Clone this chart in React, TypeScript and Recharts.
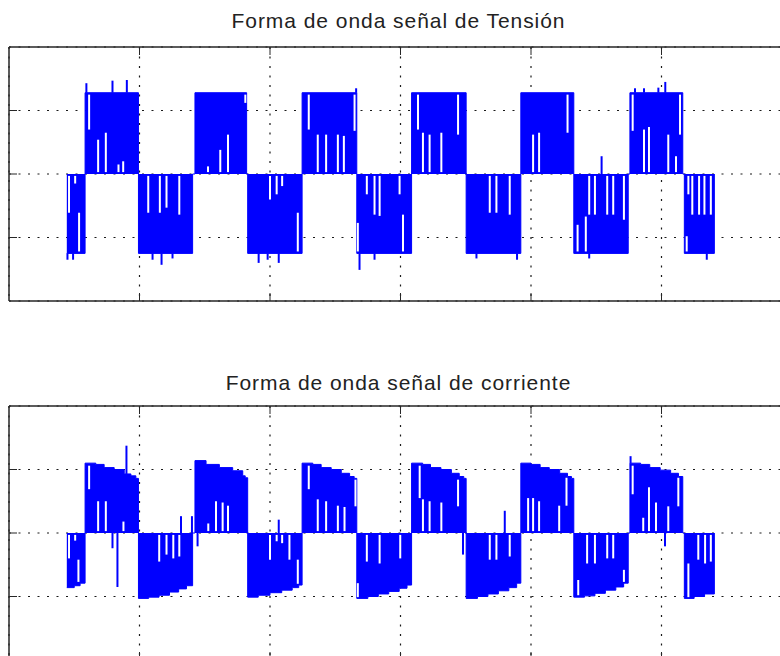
import { ComposedChart, Area, XAxis, YAxis, CartesianGrid, ReferenceLine } from "recharts";

// time in ms, grid every 10 ms
const timeTicks = [10, 20, 30, 40, 50];
const voltTicks = [-100, 0, 100];
const currTicks = [-10, 0, 10];

// voltage envelope (stepAfter): start time of each level
const voltTime = [4.43, 5.83, 9.92, 14.07, 14.25, 18.21, 18.29, 22.46, 26.65, 30.85, 35.03, 39.22, 43.28, 47.45, 47.58, 51.63, 51.75, 54.05];
const voltLevel = [-125, 128, -125, 0, 128, 0, -125, 128, -125, 128, -125, 128, -125, 0, 128, 0, -125, 0];

// current envelope (stepAfter)
const currTime = [
  4.43, 5.0, 5.45, 5.83, 6.65, 7.29, 8.06, 8.83, 9.34, 9.72, 9.92, 10.7, 11.5, 12.3, 13.0, 13.6, 14.07,
  14.25, 15.1, 16.12, 17.14, 17.91, 18.1, 18.29, 19.1, 20.0, 20.9, 21.7, 22.2, 22.46, 23.28, 23.92, 24.69,
  25.46, 26.1, 26.45, 26.65, 27.5, 28.3, 29.1, 29.9, 30.5, 30.85, 31.7, 32.3, 33.1, 33.9, 34.5, 34.85,
  35.03, 35.9, 36.7, 37.5, 38.3, 38.9, 39.22, 40.0, 40.7, 41.4, 42.2, 42.8, 43.1, 43.28, 44.1, 44.9, 45.7,
  46.5, 47.1, 47.45, 47.58, 48.4, 49.1, 49.9, 50.7, 51.3, 51.63, 51.75, 52.5, 53.3, 54.05,
];
const currLevel = [
  -8.6, -8.3, -7.9, 11.0, 10.8, 10.3, 10.0, 9.3, 9.0, 8.6, -10.3, -10.1, -9.8, -9.3, -8.8, -8.3, 0,
  11.4, 10.8, 10.3, 9.8, 9.0, 8.7, -10.1, -9.8, -9.4, -9.0, -8.6, -8.2, 11.0, 10.8, 10.3, 10.0,
  9.4, 8.9, 8.6, -10.3, -10.0, -9.6, -9.2, -8.7, -8.2, 11.0, 10.8, 10.3, 10.0, 9.4, 8.9, 8.6,
  -10.3, -10.0, -9.6, -9.1, -8.6, -7.9, 11.0, 10.8, 10.3, 10.0, 9.4, 8.9, 8.6, -10.1, -9.9, -9.5, -9.0,
  -8.5, -7.9, 0, 11.0, 10.8, 10.3, 9.9, 9.4, 8.9, 0, -10.3, -10.0, -9.6, 0,
];

// [time, from, to] short excursions beyond the envelope
const voltSpikes = [
  [4.48, -125, -135], [4.91, -125, -135], [5.93, 128, 143], [7.93, 128, 147], [9.03, 128, 148],
  [11.0, -125, -135], [11.69, -125, -143], [12.53, -125, -133], [19.13, -125, -140], [19.82, -125, -135],
  [20.67, -125, -140], [26.6, 128, 135], [26.86, -125, -151], [28.01, -125, -135], [35.82, -125, -133],
  [38.93, -125, -135], [44.46, -125, -133], [45.41, 0, 28], [47.97, 128, 135], [48.66, 128, 135],
  [49.76, 128, 136], [50.29, 128, 145], [53.47, -125, -135],
];

// [time, from, to] gaps inside the switching blocks
const voltNotches = [
  [4.6, -3, -61], [5.07, -3, -15], [5.37, -61, -122], [6.14, 125, 70], [6.83, 54, 3], [7.42, 65, 3],
  [8.39, 15, 3], [8.75, 20, 3], [10.67, -3, -61], [11.56, -3, -61], [12.07, -3, -53], [13.05, -3, -64],
  [15.25, 12, 3], [16.19, 38, 3], [16.78, 62, 3], [18.11, 125, 112], [20.0, -3, -40], [20.51, -3, -32],
  [20.93, -3, -19], [22.13, -61, -122], [22.97, 125, 70], [23.66, 62, 3], [24.3, 62, 3], [25.2, 62, 3],
  [25.66, 60, 3], [26.48, 125, 68], [26.73, -77, -122], [27.42, -3, -32], [28.01, -3, -64], [28.4, -3, -66],
  [29.93, -3, -32], [30.19, -64, -122], [31.34, 125, 70], [31.72, 65, 3], [32.23, 62, 3], [33.13, 65, 3],
  [34.41, 125, 62], [36.84, -3, -61], [37.35, -3, -61], [38.37, -3, -64], [40.16, 62, 3], [40.62, 65, 3],
  [42.8, 125, 65], [43.57, -80, -122], [44.2, -67, -122], [44.46, -3, -64], [44.9, -3, -64], [45.84, -3, -64],
  [46.3, -3, -64], [47.12, -3, -72], [47.79, 125, 68], [48.66, 70, 3], [49.04, 74, 3], [50.52, 62, 3],
  [51.11, 28, 3], [51.42, 125, 62], [51.93, -98, -122], [52.06, -3, -32], [52.36, -3, -64], [52.88, -3, -64],
  [53.29, -3, -64], [53.78, -3, -64],
];

const currSpikes = [
  [7.93, 0, -2.4], [8.31, 0, -8.5], [9.0, 9.3, 13.75], [13.18, 0, 2.65], [14.02, 0, 2.65], [14.45, 0, -2.1],
  [20.67, 0, 2.1], [34.79, 0, -3.4], [37.99, 0, 3.5], [47.63, 11.0, 12.1], [50.27, 0, -2.1],
];

const currNotches = [
  [4.6, -0.3, -4.0], [5.07, -0.3, -1.2], [5.32, -4.2, -7.7], [6.14, 10.6, 6.9], [6.83, 5.0, 0.3],
  [7.42, 5.0, 0.3], [8.77, 1.8, 0.3], [11.51, -0.3, -4.5], [12.07, -0.3, -3.4], [12.59, -0.3, -4.0],
  [13.05, -0.3, -3.7], [15.27, 1.5, 0.3], [15.86, 5.0, 0.3], [16.37, 4.8, 0.3], [16.78, 4.3, 0.3],
  [20.0, -0.3, -4.2], [20.51, -0.3, -1.3], [20.93, -0.3, -1.6], [21.49, -0.3, -4.2], [22.13, -4.2, -8.0],
  [22.97, 10.6, 6.9], [23.66, 5.3, 0.3], [24.3, 5.0, 0.3], [25.2, 4.3, 0.3], [25.71, 4.1, 0.3],
  [26.55, 8.4, 4.2], [26.73, -7.9, -10.1], [27.42, -0.3, -4.5], [28.4, -0.3, -4.8], [29.98, -0.3, -4.0],
  [31.47, 10.6, 5.5], [31.72, 5.3, 0.3], [32.23, 5.0, 0.3], [33.13, 4.8, 0.3], [34.41, 8.4, 4.2],
  [36.84, -0.3, -4.2], [37.35, -0.3, -4.2], [38.37, -0.3, -3.7], [39.78, 5.5, 0.3], [40.16, 5.5, 0.3],
  [40.62, 5.0, 0.3], [42.16, 4.3, 0.3], [42.72, 8.7, 4.3], [43.62, -7.4, -9.8], [44.3, -0.3, -4.8],
  [44.9, -0.3, -4.8], [45.84, -0.3, -4.0], [46.3, -0.3, -4.0], [47.12, -5.8, -7.7], [47.79, 10.6, 6.1],
  [48.6, 2.4, 0.3], [49.04, 7.2, 0.3], [49.58, 4.8, 0.3], [50.52, 4.2, 0.3], [51.29, 8.7, 4.2],
  [52.06, -4.8, -10.1], [52.82, -0.3, -4.2], [53.34, -0.3, -4.8], [53.78, -0.3, -4.5],
];

const voltData = voltTime.map((t, i) => ({ t, v: voltLevel[i] }));
const currData = currTime.map((t, i) => ({ t, v: currLevel[i] }));

const BLUE = "#0000ff";
const INK = "#262626";

const axisLine = { stroke: INK, strokeWidth: 1.5 };
const tickLine = { stroke: INK, strokeWidth: 1 };
const noLabel = () => "";

const Panel = ({ data, yDomain, yTicks, spikes, notches }: any) => (
  <ComposedChart width={800} height={310} data={data} margin={{ top: 47, right: 8, left: 9, bottom: 9 }}>
    <CartesianGrid stroke="#1a1a1a" strokeWidth={1.2} strokeDasharray="2 7.5" />
    <XAxis
      dataKey="t"
      type="number"
      domain={[0, 60]}
      ticks={timeTicks}
      interval={0}
      orientation="bottom"
      mirror
      height={1}
      tickFormatter={noLabel}
      tickSize={8}
      axisLine={axisLine}
      tickLine={tickLine}
    />
    <XAxis
      xAxisId="top"
      dataKey="t"
      type="number"
      domain={[0, 60]}
      ticks={timeTicks}
      interval={0}
      orientation="top"
      mirror
      height={1}
      tickFormatter={noLabel}
      tickSize={8}
      axisLine={axisLine}
      tickLine={tickLine}
    />
    <YAxis
      type="number"
      domain={yDomain}
      ticks={yTicks}
      interval={0}
      mirror
      width={1}
      tickFormatter={noLabel}
      tickSize={8}
      axisLine={axisLine}
      tickLine={tickLine}
    />
    <Area
      type="stepAfter"
      dataKey="v"
      baseValue={0}
      stroke={BLUE}
      strokeWidth={1}
      fill={BLUE}
      fillOpacity={1}
      dot={false}
      activeDot={false}
      isAnimationActive={false}
    />
    {notches.map(([t, a, b]: number[], i: number) => (
      <ReferenceLine key={`n${i}`} segment={[{ x: t, y: a }, { x: t, y: b }]} stroke="#fff" strokeWidth={2} />
    ))}
    {spikes.map(([t, a, b]: number[], i: number) => (
      <ReferenceLine key={`s${i}`} segment={[{ x: t, y: a }, { x: t, y: b }]} stroke={BLUE} strokeWidth={2} />
    ))}
  </ComposedChart>
);

const titleStyle = (top: number): React.CSSProperties => ({
  position: "absolute",
  left: 0,
  top,
  width: 797,
  textAlign: "center",
  fontFamily: "'Liberation Sans', Arial, sans-serif",
  fontSize: 21,
  lineHeight: "24px",
  letterSpacing: 0.95,
  color: "#222",
  whiteSpace: "nowrap",
});

export default function App() {
  return (
    <div
      style={{
        position: "absolute",
        left: 0,
        top: 0,
        width: 780,
        height: 656,
        overflow: "hidden",
        background: "#fff",
      }}
    >
      <div style={{ position: "absolute", left: 0, top: 0 }}>
        <Panel data={voltData} yDomain={[-200, 200]} yTicks={voltTicks} spikes={voltSpikes} notches={voltNotches} />
      </div>
      <div style={{ position: "absolute", left: 0, top: 359 }}>
        <Panel data={currData} yDomain={[-20, 20]} yTicks={currTicks} spikes={currSpikes} notches={currNotches} />
      </div>
      <div style={titleStyle(9)}>Forma de onda señal de Tensión</div>
      <div style={titleStyle(371)}>Forma de onda señal de corriente</div>
    </div>
  );
}
